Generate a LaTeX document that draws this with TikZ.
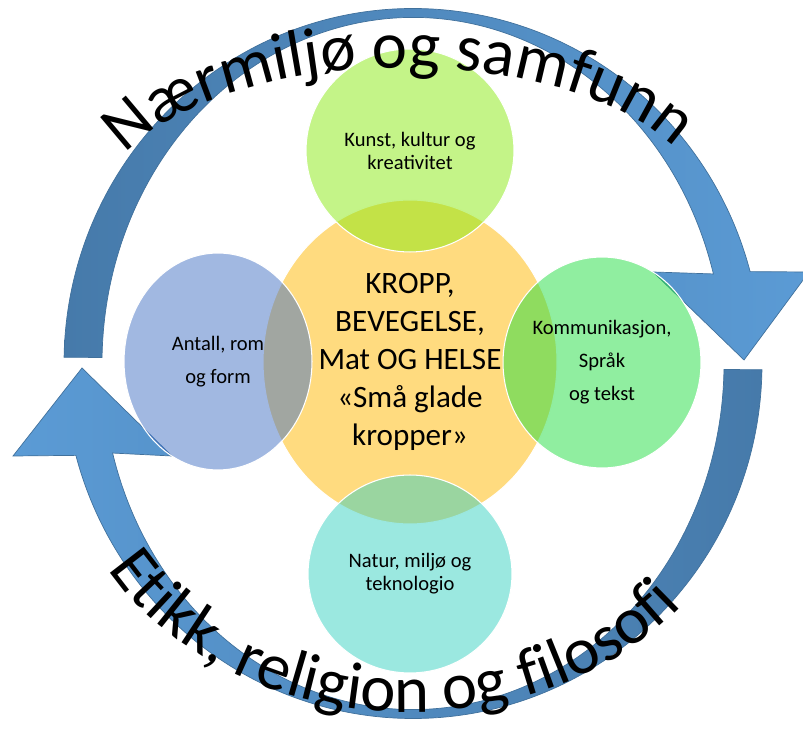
\documentclass[tikz,border=0pt]{standalone}
\usepackage{fontspec}
\setmainfont{Carlito}
\usetikzlibrary{calc,shapes.geometric,decorations.text}
\definecolor{ringdark}{HTML}{467AAA}
\definecolor{ringlight}{HTML}{5B9BD5}
\definecolor{ringedge}{HTML}{41719C}
\definecolor{kroppfill}{HTML}{FFDB7F}
\definecolor{kunstfill}{HTML}{89E911}
\definecolor{antallfill}{HTML}{4472C4}
\definecolor{kommfill}{HTML}{21DD41}
\definecolor{naturfill}{HTML}{37D1C1}
\newcommand\bubblefont{\fontsize{11.7}{13.1}\selectfont}
\newcommand\widefont{\fontsize{11.7}{18.8}\selectfont}
\newcommand\corefont{\fontsize{17.7}{21.6}\selectfont}
\newcommand\arcfont{\fontsize{38}{40}\selectfont}
\tikzset{
  ring/.style={draw=ringedge, line width=0.4pt},
  bubble/.style={ellipse, inner sep=0pt, draw=white, line width=0.6pt, fill opacity=0.5, text opacity=1, align=center, font=\bubblefont},
  core/.style={ellipse, inner sep=0pt, fill=kroppfill, draw=white, line width=0.6pt, align=center, font=\corefont},
  arctext/.style={decorate, decoration={text along path, text align=center, text={#1}}}
}

\begin{document}
\begin{tikzpicture}[x=0.02cm, y=0.02cm]
  \useasboundingbox (0,0) rectangle (803,733);
  \coordinate (ringc) at (413,369.5);
  \coordinate (topc) at (403,525);
  \coordinate (botc) at (410,291);

  % upper arrow, clockwise over the top
  \path[ring, left color=ringdark, right color=ringlight]
    ($(ringc)+(179:349 and 355)$) arc[start angle=179, end angle=15, x radius=349, y radius=355]
    -- (809,461) -- (744,373) -- (653,461)
    -- ($(ringc)+(15:311 and 346)$) arc[start angle=15, end angle=179, x radius=311, y radius=346]
    -- cycle;
  % lower arrow, clockwise under the bottom
  \path[ring, left color=ringlight, right color=ringdark]
    ($(ringc)+(-1:349 and 355)$) arc[start angle=-1, end angle=-165, x radius=349, y radius=355]
    -- (13,277) -- (82,365) -- (172,277)
    -- ($(ringc)+(-165:311 and 346)$) arc[start angle=-165, end angle=-1, x radius=311, y radius=346]
    -- cycle;

  \node[core, minimum width=5.88cm, minimum height=6.48cm] (kropp) at (410,371)
    {KROPP,\\BEVEGELSE,\\Mat OG HELSE\\«Små glade\\kropper»};
  \node[bubble, fill=kunstfill, minimum width=4.16cm, minimum height=4.06cm] (kunst) at (410,582.5)
    {Kunst, kultur og\\kreativitet};
  \node[bubble, fill=antallfill, font=\widefont, minimum width=3.76cm, minimum height=4.34cm] (antall) at (218,371.5)
    {Antall, rom\\og form};
  \node[bubble, fill=kommfill, font=\widefont, minimum width=3.96cm, minimum height=4.22cm] (komm) at (602,370.5)
    {Kommunikasjon,\\Språk\\og tekst};
  \node[bubble, fill=naturfill, minimum width=4.08cm, minimum height=3.96cm] (natur) at (410,159)
    {Natur, miljø og\\teknologio};

  \path[arctext={|\arcfont|Nærmiljø og samfunn}]
    ($(topc)+(177:300 and 140)$) arc[start angle=177, end angle=7, x radius=300, y radius=140];
  \path[arctext={|\arcfont|Etikk, religion og filosofi}]
    ($(botc)+(181:342 and 270)$) arc[start angle=181, end angle=349, x radius=342, y radius=270];
\end{tikzpicture}
\end{document}
